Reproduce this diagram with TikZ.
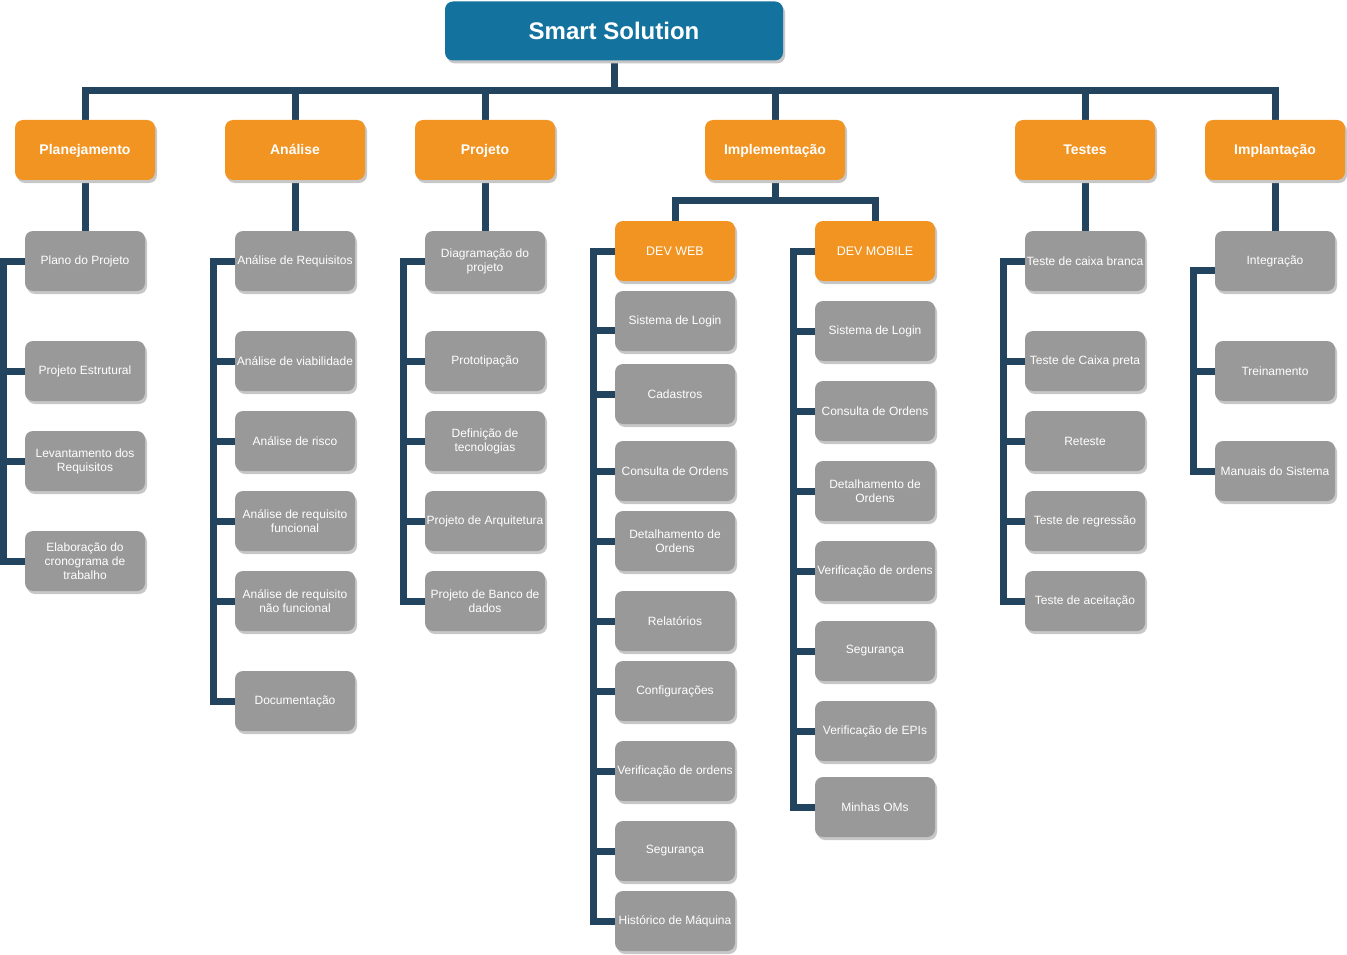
\documentclass[tikz,border=0pt]{standalone}
\usepackage{fontspec}
\setmainfont{Liberation Sans}
\usepackage{xcolor}
\usetikzlibrary{shadows,backgrounds}

\definecolor{rootblue}{HTML}{13729E}
\definecolor{phaseorange}{HTML}{F29422}
\definecolor{taskgray}{HTML}{999999}
\definecolor{linknavy}{HTML}{23445E}

\begin{document}
\begin{tikzpicture}[
    x=1pt, y=-1pt,
    every node/.style={text=white, align=center, inner xsep=1pt},
    boxshadow/.style={drop shadow={shadow xshift=2pt, shadow yshift=-3pt, fill=black!22, opacity=1}},
    rootbox/.style={rectangle, fill=rootblue, minimum width=338pt, minimum height=59pt, rounded corners=8pt, boxshadow, text height=17pt, text depth=0pt, font=\fontsize{24}{27}\selectfont\bfseries},
    phase/.style={rectangle, fill=phaseorange, minimum width=140pt, minimum height=60pt, rounded corners=8pt, boxshadow, text height=10pt, text depth=0pt, font=\fontsize{14}{16}\selectfont\bfseries},
    subphase/.style={rectangle, fill=phaseorange, minimum width=120pt, minimum height=60pt, rounded corners=8pt, boxshadow, text height=9pt, text depth=0pt, font=\fontsize{12.5}{14}\selectfont},
    task/.style={rectangle, fill=taskgray, minimum width=120pt, minimum height=60pt, rounded corners=8pt, boxshadow, font=\fontsize{12}{14}\selectfont},
    link/.style={draw=linknavy, line width=7pt}
]
\useasboundingbox (0,0) rectangle (1347,955);

% Root and phases
\node[rootbox] (root) at (614,31) {Smart Solution};
\node[phase] (plan) at (85,150) {Planejamento};
\node[phase] (anal) at (295,150) {Análise};
\node[phase] (proj) at (485,150) {Projeto};
\node[phase] (impl) at (775,150) {Implementação};
\node[phase] (test) at (1085,150) {Testes};
\node[phase] (impt) at (1275,150) {Implantação};

% Planejamento
\node[task] (pl1) at (85,261) {Plano do Projeto};
\node[task] (pl2) at (85,371) {Projeto Estrutural};
\node[task] (pl3) at (85,461) {Levantamento dos\\Requisitos};
\node[task] (pl4) at (85,561) {Elaboração do\\cronograma de\\trabalho};

% Analise
\node[task] (an1) at (295,261) {Análise de Requisitos};
\node[task] (an2) at (295,361) {Análise de viabilidade};
\node[task] (an3) at (295,441) {Análise de risco};
\node[task] (an4) at (295,521) {Análise de requisito\\funcional};
\node[task] (an5) at (295,601) {Análise de requisito\\não funcional};
\node[task] (an6) at (295,701) {Documentação};

% Projeto
\node[task] (pj1) at (485,261) {Diagramação do\\projeto};
\node[task] (pj2) at (485,361) {Prototipação};
\node[task] (pj3) at (485,441) {Definição de\\tecnologias};
\node[task] (pj4) at (485,521) {Projeto de Arquitetura};
\node[task] (pj5) at (485,601) {Projeto de Banco de\\dados};

% Implementacao
\node[subphase] (web) at (675,251) {DEV WEB};
\node[subphase] (mob) at (875,251) {DEV MOBILE};

\node[task] (w1) at (675,321) {Sistema de Login};
\node[task] (w2) at (675,394) {Cadastros};
\node[task] (w3) at (675,471) {Consulta de Ordens};
\node[task] (w4) at (675,541) {Detalhamento de\\Ordens};
\node[task] (w5) at (675,621) {Relatórios};
\node[task] (w6) at (675,691) {Configurações};
\node[task] (w7) at (675,771) {Verificação de ordens};
\node[task] (w8) at (675,851) {Segurança};
\node[task] (w9) at (675,921) {Histórico de Máquina};

\node[task] (m1) at (875,331) {Sistema de Login};
\node[task] (m2) at (875,411) {Consulta de Ordens};
\node[task] (m3) at (875,491) {Detalhamento de\\Ordens};
\node[task] (m4) at (875,571) {Verificação de ordens};
\node[task] (m5) at (875,651) {Segurança};
\node[task] (m6) at (875,731) {Verificação de EPIs};
\node[task] (m7) at (875,807) {Minhas OMs};

% Testes
\node[task] (ts1) at (1085,261) {Teste de caixa branca};
\node[task] (ts2) at (1085,361) {Teste de Caixa preta};
\node[task] (ts3) at (1085,441) {Reteste};
\node[task] (ts4) at (1085,521) {Teste de regressão};
\node[task] (ts5) at (1085,601) {Teste de aceitação};

% Implantacao
\node[task] (ip1) at (1275,261) {Integração};
\node[task] (ip2) at (1275,371) {Treinamento};
\node[task] (ip3) at (1275,471) {Manuais do Sistema};

% Connectors
\begin{scope}[on background layer]
\draw[link] (root.south) -- ++(0,30) coordinate (hub);
\foreach \h in {plan,anal,proj,impl,test,impt}
  \draw[link] (\h.north) |- (hub);

\draw[link] (plan.south) -- (pl1.north);
\draw[link] (anal.south) -- (an1.north);
\draw[link] (proj.south) -- (pj1.north);
\draw[link] (test.south) -- (ts1.north);
\draw[link] (impt.south) -- (ip1.north);
\draw[link] (impl.south) -- ++(0,20) -| (web.north);
\draw[link] (impl.south) -- ++(0,20) -| (mob.north);

\draw[link] (pl1.west) -- ++(-21,0) |- (pl4.west);
\draw[link] (pl2.west) -- ++(-21,0);
\draw[link] (pl3.west) -- ++(-21,0);

\draw[link] (an1.west) -- ++(-21,0) |- (an6.west);
\foreach \n in {an2,an3,an4,an5}
  \draw[link] (\n.west) -- ++(-21,0);

\draw[link] (pj1.west) -- ++(-21,0) |- (pj5.west);
\foreach \n in {pj2,pj3,pj4}
  \draw[link] (\n.west) -- ++(-21,0);

\draw[link] (web.west) -- ++(-21,0) |- (w9.west);
\draw[link] ([yshift=-9pt]w1.west) -- ++(-21,0);
\foreach \n in {w2,w3,w4,w5,w6,w7,w8}
  \draw[link] (\n.west) -- ++(-21,0);

\draw[link] (mob.west) -- ++(-21,0) |- (m7.west);
\foreach \n in {m1,m2,m3,m4,m5,m6}
  \draw[link] (\n.west) -- ++(-21,0);

\draw[link] (ts1.west) -- ++(-21,0) |- (ts5.west);
\foreach \n in {ts2,ts3,ts4}
  \draw[link] (\n.west) -- ++(-21,0);

\draw[link] ([yshift=-9pt]ip1.west) -- ++(-21,0) |- (ip3.west);
\draw[link] (ip2.west) -- ++(-21,0);
\end{scope}

\end{tikzpicture}
\end{document}
